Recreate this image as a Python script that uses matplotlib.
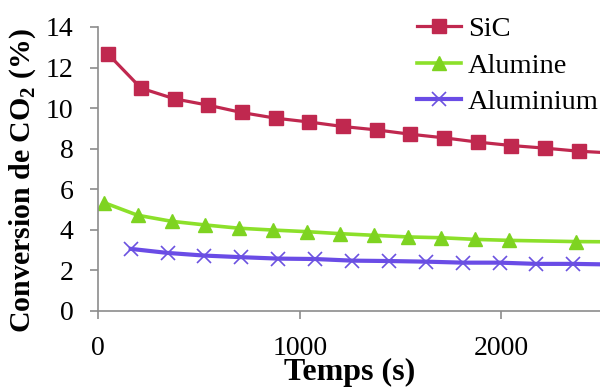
import matplotlib
matplotlib.use("Agg")
import matplotlib.pyplot as plt

# data
sic_t = [47, 212, 380, 546, 711, 880, 1047, 1213, 1382, 1547, 1716, 1883, 2050, 2218, 2384, 2552]
sic_y = [12.68, 10.98, 10.45, 10.14, 9.78, 9.50, 9.31, 9.09, 8.92, 8.71, 8.53, 8.32, 8.15, 8.02, 7.87, 7.78]

alu2o3_t = [29, 195, 364, 531, 698, 865, 1034, 1201, 1368, 1535, 1702, 1869, 2037, 2369, 2536]
alu2o3_y = [5.33, 4.71, 4.41, 4.23, 4.07, 3.98, 3.90, 3.80, 3.72, 3.64, 3.60, 3.52, 3.47, 3.41, 3.40]

al_t = [161, 344, 526, 710, 893, 1075, 1259, 1443, 1626, 1810, 1992, 2174, 2358, 2541]
al_y = [3.05, 2.85, 2.72, 2.64, 2.57, 2.55, 2.47, 2.45, 2.42, 2.37, 2.37, 2.31, 2.31, 2.28]

yticks = [0, 2, 4, 6, 8, 10, 12, 14]
xticks = [0, 1000, 2000]

plt.rcParams['font.family'] = ['Liberation Serif', 'DejaVu Serif']
plt.rcParams['mathtext.fontset'] = 'custom'
plt.rcParams['mathtext.rm'] = 'Liberation Serif'
plt.rcParams['mathtext.bf'] = 'Liberation Serif:bold'

fig = plt.figure(figsize=(6, 3.91), dpi=100)
ax = fig.add_axes([0.1638, 0.2054, 0.8362, 0.7256])

ax.plot(sic_t, sic_y, color='#C0284F', lw=2.3, marker='s', ms=9.5,
        mfc='#C0284F', mec='#C0284F', label='SiC')
ax.plot(alu2o3_t, alu2o3_y, color='#8CE02A', lw=2.6, marker='^', ms=10,
        mfc='#7ED321', mec='#7ED321', label='Alumine')
ax.plot(al_t, al_y, color='#6A4CE6', lw=3.0, marker='x', ms=10, mew=1.2,
        mec='#6B52E0', label='Aluminium')

ax.set_xlim(0, 2490)
ax.set_ylim(0, 14)
ax.set_xticks(xticks)
ax.set_yticks(yticks)

for s in ['top', 'right']:
    ax.spines[s].set_visible(False)
for s in ['left', 'bottom']:
    ax.spines[s].set_color('#8C8C8C')
    ax.spines[s].set_linewidth(1.2)
ax.tick_params(colors='#8C8C8C', labelcolor='black', labelsize=20, length=6, width=1.2, direction='out')
ax.tick_params(axis='x', pad=12)
ax.tick_params(axis='y', pad=12)

ax.set_xlabel('Temps (s)', fontsize=23, fontweight='bold', labelpad=-2)
ax.set_ylabel(r'Conversion de CO$_\mathbf{2}$ (%)', fontsize=21.5, fontweight='bold')
ax.yaxis.set_label_coords(-0.12, 0.46)

fig.legend(loc='upper left', bbox_to_anchor=(0.652, 1.025), frameon=False,
           fontsize=20.5, handlelength=1.55, handletextpad=0.25, labelspacing=0.38)

fig.savefig('out.png', dpi=100)
